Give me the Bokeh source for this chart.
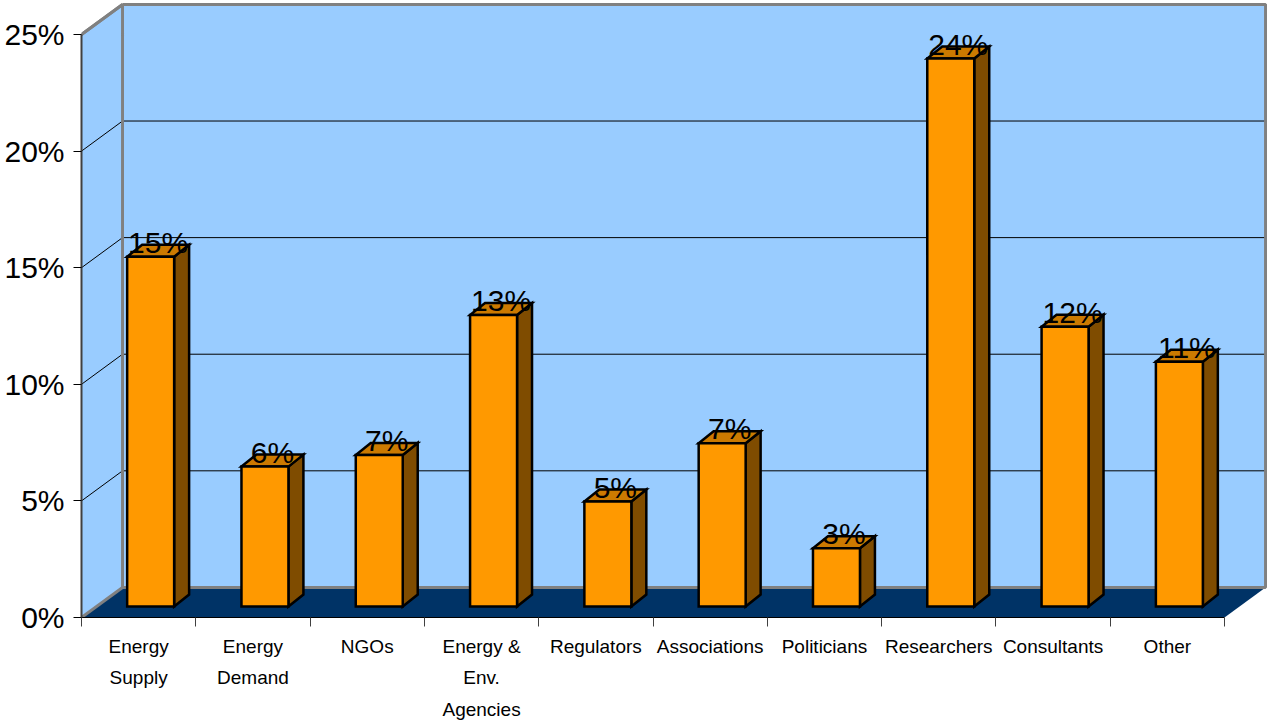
import math

from bokeh.core.properties import value
from bokeh.embed import file_html
from bokeh.models import ColumnDataSource, FixedTicker, Range1d
from bokeh.plotting import figure
from bokeh.resources import INLINE

# ---- data -----------------------------------------------------------------
categories = [
    "Energy\nSupply",
    "Energy\nDemand",
    "NGOs",
    "Energy &\nEnv.\nAgencies",
    "Regulators",
    "Associations",
    "Politicians",
    "Researchers",
    "Consultants",
    "Other",
]
shares = [15.0, 6.0, 6.5, 12.5, 4.5, 7.0, 2.5, 23.5, 12.0, 10.5]  # percent
y_ticks = [0, 5, 10, 15, 20, 25]
y_tick_labels = [f"{t}%" for t in y_ticks]

# ---- pseudo-3D geometry (data units: 1 per category, 1 per percent) -------
N = len(categories)
Y_MAX = y_ticks[-1]
WALL_DX, WALL_DY = 0.359, 1.29        # depth of the box
BAR_SHIFT_X, BAR_SHIFT_Y = 0.105, 0.47  # bars sit mid-depth
BAR_W = 0.411
BAR_DX, BAR_DY = 0.131, 0.515         # depth of each bar

WALL = "#99CCFF"
FLOOR = "#003366"
EDGE = "#808080"
FRONT = "#FF9900"
SIDE = "#7F4C00"
TOP = "#CC7A00"
FONT = "Liberation Sans"

p = figure(
    width=1267,
    height=725,
    x_range=Range1d(0, 10.376),
    y_range=Range1d(0, 26.458),
    output_backend="svg",
    toolbar_location=None,
    min_border_left=81,
    min_border_right=0,
    min_border_top=0,
    min_border_bottom=108,
)
p.outline_line_color = None
p.background_fill_color = "white"
p.border_fill_color = "white"
p.xgrid.visible = False
p.ygrid.visible = False

# walls and floor
p.patches(
    xs=[[0, WALL_DX, WALL_DX, 0], [WALL_DX, N + WALL_DX, N + WALL_DX, WALL_DX]],
    ys=[[0, WALL_DY, Y_MAX + WALL_DY, Y_MAX], [WALL_DY, WALL_DY, Y_MAX + WALL_DY, Y_MAX + WALL_DY]],
    fill_color=WALL, line_color=None,
)
p.patch([0, N, N + WALL_DX, WALL_DX], [0, 0, WALL_DY, WALL_DY], fill_color=FLOOR, line_color=None)

# gridlines on the back and side walls
grid_x, grid_y = [], []
for t in y_ticks[1:-1]:
    grid_x.append([0, WALL_DX, N + WALL_DX])
    grid_y.append([t, t + WALL_DY, t + WALL_DY])
p.multi_line(grid_x, grid_y, line_color="black", line_width=1)

# grey wall edges
edge_x = [
    [0, WALL_DX, WALL_DX, N + WALL_DX, N + WALL_DX, WALL_DX],
    [WALL_DX, 0],
    [0, WALL_DX],
]
edge_y = [
    [Y_MAX, Y_MAX + WALL_DY, WALL_DY, WALL_DY, Y_MAX + WALL_DY, Y_MAX + WALL_DY],
    [WALL_DY, 0],
    [Y_MAX, Y_MAX + WALL_DY],
]
p.multi_line(edge_x, edge_y, line_color=EDGE, line_width=3)

# bars: side, top and front faces
x0 = [i + 0.5 + BAR_SHIFT_X - BAR_W / 2 for i in range(N)]
x1 = [a + BAR_W for a in x0]
y0 = BAR_SHIFT_Y
y1 = [BAR_SHIFT_Y + v for v in shares]

side_xs = [[b, b + BAR_DX, b + BAR_DX, b] for b in x1]
side_ys = [[y0, y0 + BAR_DY, t + BAR_DY, t] for t in y1]
top_xs = [[a, b, b + BAR_DX, a + BAR_DX] for a, b in zip(x0, x1)]
top_ys = [[t, t, t + BAR_DY, t + BAR_DY] for t in y1]

p.patches(side_xs, side_ys, fill_color=SIDE, line_color="black", line_width=2.5, line_join="miter")
p.patches(top_xs, top_ys, fill_color=TOP, line_color="black", line_width=2.5, line_join="miter")
p.quad(left=x0, right=x1, bottom=y0, top=y1, fill_color=FRONT, line_color="black",
       line_width=2.5, line_join="miter")

# value labels, sitting on the top face of each bar
labels = ColumnDataSource(dict(
    x=[a + BAR_W / 2 + BAR_DX / 2 for a in x0],
    y=y1,
    text=[f"{math.floor(v + 0.5)}%" for v in shares],
))
p.text(x="x", y="y", text="text", source=labels, text_align="center",
       text_baseline="bottom", text_font=value(FONT), text_font_size="30px",
       text_color="black", y_offset=2)

# y axis (front edge of the box)
p.yaxis.ticker = FixedTicker(ticks=y_ticks)
p.yaxis.major_label_overrides = dict(zip(y_ticks, y_tick_labels))
p.yaxis.bounds = (0, Y_MAX)
p.yaxis.axis_line_color = "#404040"
p.yaxis.axis_line_width = 2
p.yaxis.major_tick_in = 0
p.yaxis.major_tick_out = 8
p.yaxis.major_tick_line_color = "black"
p.yaxis.minor_tick_line_color = None
p.yaxis.major_label_standoff = 9
p.yaxis.major_label_text_font = FONT
p.yaxis.major_label_text_font_size = "30px"
p.yaxis.major_label_text_color = "black"

# x axis: labels at category centres, tick marks at category boundaries
centres = [i + 0.5 for i in range(N)]
p.xaxis.ticker = FixedTicker(ticks=centres, minor_ticks=list(range(N + 1)))
p.xaxis.major_label_overrides = dict(zip(centres, categories))
p.xaxis.bounds = (0, N)
p.xaxis.axis_line_color = "black"
p.xaxis.axis_line_width = 1
p.xaxis.major_tick_in = 0
p.xaxis.major_tick_out = 0
p.xaxis.minor_tick_in = 0
p.xaxis.minor_tick_out = 9
p.xaxis.minor_tick_line_color = "#404040"
p.xaxis.major_label_standoff = 9
p.xaxis.major_label_text_font = FONT
p.xaxis.major_label_text_font_size = "19px"
p.xaxis.major_label_text_line_height = 1.5
p.xaxis.major_label_text_color = "black"

open("out.html", "w").write(file_html(p, INLINE))
